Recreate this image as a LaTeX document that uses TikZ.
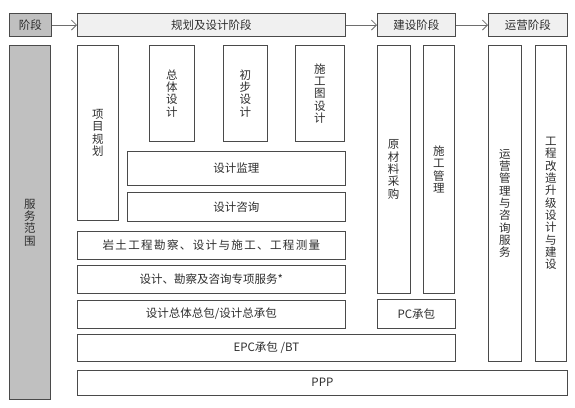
\documentclass[tikz,border=0pt]{standalone}
\usepackage{fontspec}
\setmainfont{Noto Sans CJK SC}
\usetikzlibrary{arrows.meta}
\definecolor{edge}{HTML}{4A4A4A}
\definecolor{darkfill}{HTML}{C0C0C0}
\definecolor{lightfill}{HTML}{F0F0F0}
\definecolor{ink}{HTML}{2E2E2E}
\begin{document}
\begin{tikzpicture}[x=1pt, y=-1pt,
    box/.style={draw=edge, line width=0.8pt, fill=white, inner sep=0pt,
        anchor=north west, align=center, text=ink,
        font=\fontsize{11.5}{12.3}\selectfont},
    stagebox/.style={box, fill=lightfill, minimum height=22.7pt},
    headbox/.style={box, fill=darkfill},
    flow/.style={draw=edge!80, line width=0.8pt, -{Straight Barb[length=5pt,width=10pt]}}]
    \useasboundingbox (0,0) rectangle (575,407);

    % Stages
    \node[headbox, minimum width=41.7pt, minimum height=22.7pt] (stage) at (9,13.3) {阶段};
    \node[stagebox, minimum width=268pt] (plan) at (77,13.3) {规划及设计阶段};
    \node[stagebox, minimum width=78pt] (build) at (377,13.3) {建设阶段};
    \node[stagebox, minimum width=79pt] (operate) at (488,13.3) {运营阶段};

    \draw[flow] (stage) -- (plan);
    \draw[flow] (plan) -- (build);
    \draw[flow] (build) -- (operate);

    % Scope
    \node[headbox, minimum width=41pt, minimum height=354pt] (scope) at (9,45) {服\\务\\范\\围};

    % Planning and design
    \node[box, minimum width=41pt, minimum height=175pt] (project) at (77,45) {项\\目\\规\\划};
    \node[box, minimum width=45pt, minimum height=96pt] (overall) at (149,45) {总\\体\\设\\计};
    \node[box, minimum width=44pt, minimum height=96pt] (prelim) at (223,45) {初\\步\\设\\计};
    \node[box, minimum width=49pt, minimum height=96pt] (drawing) at (295,45) {施\\工\\图\\设\\计};
    \node[box, minimum width=218pt, minimum height=34pt] (supervise) at (127,151) {设计监理};
    \node[box, minimum width=218pt, minimum height=29pt] (consult) at (127,192) {设计咨询};
    \node[box, minimum width=268pt, minimum height=28pt] (geo) at (77,231)
        {\addfontfeatures{LetterSpace=12}岩土工程勘察、设计与施工、工程测量};
    \node[box, minimum width=268pt, minimum height=28pt] (special) at (77,265) {设计、勘察及咨询专项服务*};
    \node[box, minimum width=268pt, minimum height=28.5pt] (general) at (77,299.5) {设计总体总包/设计总承包};

    % Construction
    \node[box, minimum width=32.5pt, minimum height=248pt] (purchase) at (377,45) {原\\材\\料\\采\\购};
    \node[box, minimum width=31pt, minimum height=248pt] (site) at (423,45) {施\\工\\管\\理};
    \node[box, minimum width=78pt, minimum height=28.5pt] (pc) at (377,299) {PC承包};
    \node[box, minimum width=378pt, minimum height=27.5pt] (epc) at (77,333.5) {EPC承包 /BT};

    % Operation
    \node[box, minimum width=33pt, minimum height=316pt] (service) at (488,45)
        {运\\营\\管\\理\\与\\咨\\询\\服\\务};
    \node[box, minimum width=31pt, minimum height=316pt] (upgrade) at (535,45)
        {工\\程\\改\\造\\升\\级\\设\\计\\与\\建\\设};
    \node[box, minimum width=490pt, minimum height=25.5pt] (ppp) at (77,369.5) {PPP};
\end{tikzpicture}
\end{document}
